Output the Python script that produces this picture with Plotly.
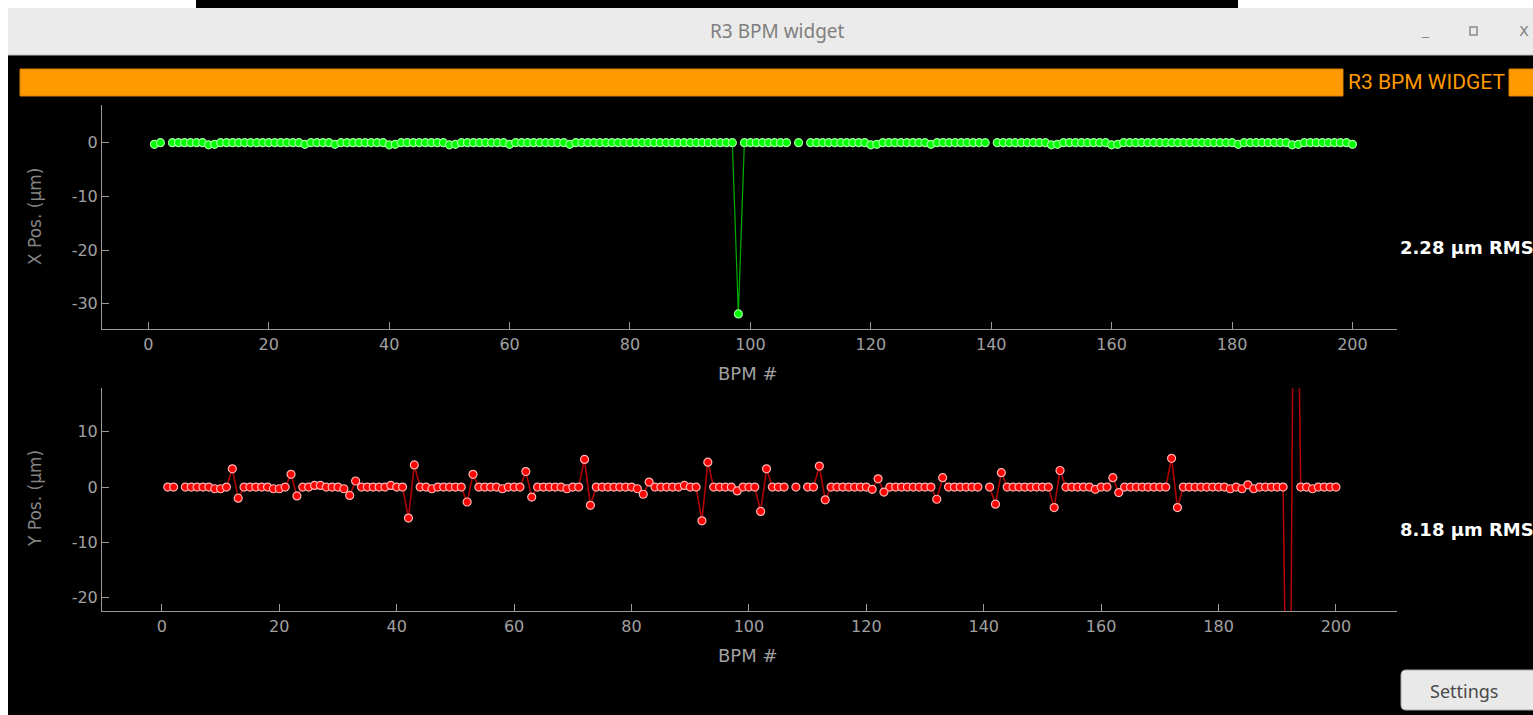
import plotly.graph_objects as go

W, H = 1533, 715

# ---------------- data ----------------
bpm = list(range(1, 201))

x_pos = [
    -0.3, 0.0, None, 0.0, 0.0, 0.0, 0.0, 0.0, 0.0, -0.4,
    -0.3, 0.0, 0.0, 0.0, 0.0, 0.0, 0.0, 0.0, 0.0, 0.0,
    0.0, 0.0, 0.0, 0.0, 0.0, -0.3, 0.0, 0.0, 0.0, 0.0,
    -0.3, 0.0, 0.0, 0.0, 0.0, 0.0, 0.0, 0.0, 0.0, -0.4,
    -0.3, 0.0, 0.0, 0.0, 0.0, 0.0, 0.0, 0.0, 0.0, -0.4,
    -0.3, 0.0, 0.0, 0.0, 0.0, 0.0, 0.0, 0.0, 0.0, -0.3,
    0.0, 0.0, 0.0, 0.0, 0.0, 0.0, 0.0, 0.0, 0.0, -0.3,
    0.0, 0.0, 0.0, 0.0, 0.0, 0.0, 0.0, 0.0, 0.0, 0.0,
    0.0, 0.0, 0.0, 0.0, 0.0, 0.0, 0.0, 0.0, 0.0, 0.0,
    0.0, 0.0, 0.0, 0.0, 0.0, 0.0, 0.0, -31.9, 0.0, 0.0,
    0.0, 0.0, 0.0, 0.0, 0.0, 0.0, None, 0.0, None, 0.0,
    0.0, 0.0, 0.0, 0.0, 0.0, 0.0, 0.0, 0.0, 0.0, -0.4,
    -0.3, 0.0, 0.0, 0.0, 0.0, 0.0, 0.0, 0.0, 0.0, -0.3,
    0.0, 0.0, 0.0, 0.0, 0.0, 0.0, 0.0, 0.0, 0.0, None,
    0.0, 0.0, 0.0, 0.0, 0.0, 0.0, 0.0, 0.0, 0.0, -0.4,
    -0.3, 0.0, 0.0, 0.0, 0.0, 0.0, 0.0, 0.0, 0.0, -0.4,
    -0.3, 0.0, 0.0, 0.0, 0.0, 0.0, 0.0, 0.0, 0.0, 0.0,
    0.0, 0.0, 0.0, 0.0, 0.0, 0.0, 0.0, 0.0, 0.0, 0.0,
    -0.3, 0.0, 0.0, 0.0, 0.0, 0.0, 0.0, 0.0, 0.0, -0.4,
    -0.3, 0.0, 0.0, 0.0, 0.0, 0.0, 0.0, 0.0, 0.0, -0.3,
]

y_pos = [
    0.0, 0.0, None, 0.0, 0.0, 0.0, 0.0, 0.0, -0.3, -0.3,
    0.0, 3.3, -2.0, 0.0, 0.0, 0.0, 0.0, 0.0, -0.3, -0.3,
    0.0, 2.3, -1.6, 0.0, 0.0, 0.3, 0.3, 0.0, 0.0, 0.0,
    -0.3, -1.5, 1.1, 0.0, 0.0, 0.0, 0.0, 0.0, 0.3, 0.0,
    0.0, -5.6, 4.0, 0.0, 0.0, -0.3, 0.0, 0.0, 0.0, 0.0,
    0.0, -2.7, 2.3, 0.0, 0.0, 0.0, 0.0, -0.3, 0.0, 0.0,
    0.0, 2.8, -1.8, 0.0, 0.0, 0.0, 0.0, 0.0, -0.3, 0.0,
    0.0, 5.0, -3.3, 0.0, 0.0, 0.0, 0.0, 0.0, 0.0, 0.0,
    -0.3, -1.3, 0.9, 0.0, 0.0, 0.0, 0.0, 0.0, 0.3, 0.0,
    0.0, -6.1, 4.5, 0.0, 0.0, 0.0, 0.0, -0.7, 0.0, 0.0,
    0.0, -4.4, 3.3, 0.0, 0.0, 0.0, None, 0.0, None, 0.0,
    0.0, 3.8, -2.3, 0.0, 0.0, 0.0, 0.0, 0.0, 0.0, 0.0,
    -0.4, 1.5, -0.9, 0.0, 0.0, 0.0, 0.0, 0.0, 0.0, 0.0,
    0.0, -2.2, 1.7, 0.0, 0.0, 0.0, 0.0, 0.0, 0.0, None,
    0.0, -3.1, 2.6, 0.0, 0.0, 0.0, 0.0, 0.0, 0.0, 0.0,
    0.0, -3.7, 3.0, 0.0, 0.0, 0.0, 0.0, 0.0, -0.4, 0.0,
    0.0, 1.7, -1.0, 0.0, 0.0, 0.0, 0.0, 0.0, 0.0, 0.0,
    0.0, 5.2, -3.7, 0.0, 0.0, 0.0, 0.0, 0.0, 0.0, 0.0,
    0.0, -0.3, 0.0, -0.3, 0.4, -0.3, 0.0, 0.0, 0.0, 0.0,
    0.0, -80.0, 80.0, 0.0, 0.0, -0.3, 0.0, 0.0, 0.0, 0.0,
]

x_ticks = [0, 20, 40, 60, 80, 100, 120, 140, 160, 180, 200]
top_y_ticks = [0, -10, -20, -30]
bot_y_ticks = [10, 0, -10, -20]

x_rms_label = "2.28 µm RMS"
y_rms_label = "8.18 µm RMS"
window_title = "R3 BPM widget"
banner_title = "R3 BPM WIDGET"

# ---------------- helpers ----------------
def px(x):
    return x / W

def py(y):
    return 1 - y / H

AX = "#9a9a9a"
TICK = "#a0a0a0"
TITLE_C = "#858585"
ORANGE = "#ff9900"

fig = go.Figure()

fig.add_trace(go.Scatter(
    x=bpm, y=x_pos, mode="lines+markers", xaxis="x", yaxis="y",
    line=dict(color="#00b000", width=1.2),
    marker=dict(color="#00ff00", size=8, line=dict(color="#9cff9c", width=1.2)),
    connectgaps=False, hoverinfo="skip", showlegend=False,
))
fig.add_trace(go.Scatter(
    x=bpm, y=y_pos, mode="lines+markers", xaxis="x2", yaxis="y2",
    line=dict(color="#b00000", width=1.6),
    marker=dict(color="#ff0000", size=8, line=dict(color="#ffb4b4", width=1.2)),
    connectgaps=False, hoverinfo="skip", showlegend=False,
))

common_axis = dict(
    showline=True, linecolor=AX, linewidth=1,
    ticks="inside", ticklen=7, tickcolor=AX, tickwidth=1,
    showgrid=False, zeroline=False,
    tickfont=dict(family="DejaVu Sans", size=16, color=TICK),
    fixedrange=True,
)

xdom = [px(102), px(1397)]

fig.update_layout(
    width=W, height=H,
    margin=dict(l=0, r=0, t=0, b=0),
    paper_bgcolor="#000000", plot_bgcolor="#000000",
    xaxis=dict(domain=xdom, range=[-7.7, 207.4], anchor="y",
               tickvals=x_ticks, ticktext=[str(v) for v in x_ticks], **common_axis),
    yaxis=dict(domain=[py(329.3), py(105)], range=[-34.77, 7.02], anchor="x",
               tickvals=top_y_ticks, ticktext=[str(v) for v in top_y_ticks], **common_axis),
    xaxis2=dict(domain=xdom, range=[-10.2, 210.4], anchor="y2",
                tickvals=x_ticks, ticktext=[str(v) for v in x_ticks], **common_axis),
    yaxis2=dict(domain=[py(611.3), py(388.3)], range=[-22.46, 17.86], anchor="x2",
                tickvals=bot_y_ticks, ticktext=[str(v) for v in bot_y_ticks], **common_axis),
)

shapes = []
# white outer strips
shapes.append(dict(type="rect", xref="paper", yref="paper", x0=0, x1=px(8), y0=0, y1=1,
                   fillcolor="#ffffff", line=dict(width=0), layer="below"))
shapes.append(dict(type="rect", xref="paper", yref="paper", x0=0, x1=1, y0=py(8), y1=1,
                   fillcolor="#ffffff", line=dict(width=0), layer="below"))
shapes.append(dict(type="rect", xref="paper", yref="paper", x0=px(196), x1=px(1238), y0=py(8), y1=1,
                   fillcolor="#000000", line=dict(width=0), layer="below"))
# title bar
shapes.append(dict(type="rect", xref="paper", yref="paper", x0=px(8), x1=1, y0=py(55), y1=py(8),
                   fillcolor="#ebebeb", line=dict(width=0), layer="below"))
shapes.append(dict(type="line", xref="paper", yref="paper", x0=px(8), x1=1, y0=py(55), y1=py(55),
                   line=dict(color="#bdbdbd", width=1), layer="below"))
# maximize icon
shapes.append(dict(type="rect", xref="paper", yref="paper", x0=px(1470), x1=px(1477), y0=py(35), y1=py(27),
                   fillcolor="rgba(0,0,0,0)", line=dict(color="#8a8a8a", width=1.5), layer="above"))
# orange banner
shapes.append(dict(type="rect", xref="paper", yref="paper", x0=px(20), x1=px(1343), y0=py(96), y1=py(69),
                   fillcolor=ORANGE, line=dict(color="#d98200", width=1), layer="below"))
shapes.append(dict(type="rect", xref="paper", yref="paper", x0=px(1509), x1=px(1540), y0=py(96), y1=py(69),
                   fillcolor=ORANGE, line=dict(color="#d98200", width=1), layer="below"))

# settings button (rounded rect)
bx0, bx1, by0, by1, r = 1401, 1545, 670, 710, 5
path = (f"M {px(bx0 + r)},{py(by0)} L {px(bx1 - r)},{py(by0)} "
        f"Q {px(bx1)},{py(by0)} {px(bx1)},{py(by0 + r)} L {px(bx1)},{py(by1 - r)} "
        f"Q {px(bx1)},{py(by1)} {px(bx1 - r)},{py(by1)} L {px(bx0 + r)},{py(by1)} "
        f"Q {px(bx0)},{py(by1)} {px(bx0)},{py(by1 - r)} L {px(bx0)},{py(by0 + r)} "
        f"Q {px(bx0)},{py(by0)} {px(bx0 + r)},{py(by0)} Z")
shapes.append(dict(type="path", xref="paper", yref="paper", path=path,
                   fillcolor="#e9e9e9", line=dict(color="#a8a8a8", width=1), layer="above"))

fig.update_layout(shapes=shapes)

ann = []
ann.append(dict(text=window_title, x=px(777), y=py(31), xref="paper", yref="paper",
                showarrow=False, xanchor="center", yanchor="middle",
                font=dict(family="Noto Sans", size=19, color="#7e7e7e")))
ann.append(dict(text="_", x=px(1425), y=py(30), xref="paper", yref="paper",
                showarrow=False, xanchor="center", yanchor="middle",
                font=dict(family="DejaVu Sans", size=14, color="#8a8a8a")))
ann.append(dict(text="x", x=px(1524), y=py(30), xref="paper", yref="paper",
                showarrow=False, xanchor="center", yanchor="middle",
                font=dict(family="DejaVu Sans", size=17, color="#8a8a8a")))
ann.append(dict(text=banner_title, x=px(1346), y=py(82), xref="paper", yref="paper",
                showarrow=False, xanchor="left", yanchor="middle",
                font=dict(family="Roboto", size=21, color=ORANGE)))
ann.append(dict(text="X Pos. (µm)", x=px(35), y=py(217), xref="paper", yref="paper",
                showarrow=False, xanchor="center", yanchor="middle", textangle=-90,
                font=dict(family="DejaVu Sans", size=17, color=TITLE_C)))
ann.append(dict(text="Y Pos. (µm)", x=px(35), y=py(499), xref="paper", yref="paper",
                showarrow=False, xanchor="center", yanchor="middle", textangle=-90,
                font=dict(family="DejaVu Sans", size=17, color=TITLE_C)))
ann.append(dict(text="BPM #", x=px(748), y=py(373), xref="paper", yref="paper",
                showarrow=False, xanchor="center", yanchor="middle",
                font=dict(family="DejaVu Sans", size=18, color=TICK)))
ann.append(dict(text="BPM #", x=px(748), y=py(655), xref="paper", yref="paper",
                showarrow=False, xanchor="center", yanchor="middle",
                font=dict(family="DejaVu Sans", size=18, color=TICK)))
ann.append(dict(text=x_rms_label, x=px(1398), y=py(247), xref="paper", yref="paper",
                showarrow=False, xanchor="left", yanchor="middle",
                font=dict(family="DejaVu Sans", size=18, color="#ffffff", weight="bold")))
ann.append(dict(text=y_rms_label, x=px(1398), y=py(529), xref="paper", yref="paper",
                showarrow=False, xanchor="left", yanchor="middle",
                font=dict(family="DejaVu Sans", size=18, color="#ffffff", weight="bold")))
ann.append(dict(text="Settings", x=px(1464), y=py(691), xref="paper", yref="paper",
                showarrow=False, xanchor="center", yanchor="middle",
                font=dict(family="Noto Sans", size=18, color="#4a4a4a")))
fig.update_layout(annotations=ann)

fig.write_html("out.html",
               config={"displayModeBar": False, "staticPlot": True},
               post_script="document.body.style.margin='0px';document.body.style.overflow='hidden';")
